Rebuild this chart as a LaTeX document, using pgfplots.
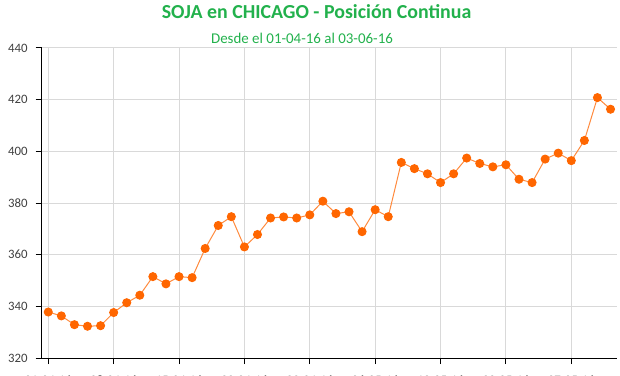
\documentclass[border=0pt]{standalone}
\usepackage{fontspec}
\setmainfont{Carlito}
\usepackage{pgfplots}
\pgfplotsset{compat=1.18}
\definecolor{titlegreen}{HTML}{22B14C}
\definecolor{mkorange}{HTML}{FF6600}
\definecolor{lnorange}{HTML}{FF8A3D}
\definecolor{gridgray}{HTML}{D9D9D9}
\definecolor{ticktext}{HTML}{404040}
\begin{document}
\begin{tikzpicture}
\begin{axis}[
  name=ax, at={(0,0)}, anchor=south west,
  scale only axis, width=431.5pt, height=232.5pt,
  xmin=-0.5, xmax=43.5, ymin=320, ymax=440,
  ytick={320,340,...,440},
  xtick={0,5,...,40},
  xticklabels={01-04-16,08-04-16,15-04-16,22-04-16,29-04-16,06-05-16,13-05-16,20-05-16,27-05-16},
  grid=major, major grid style={gridgray, line width=0.75pt},
  axis x line*=bottom, axis y line*=left,
  axis line style={black, line width=0.75pt},
  tick align=outside, major tick length=4.5pt,
  tick style={black, line width=0.75pt},
  ticklabel style={font=\fontsize{9.6}{11}\selectfont, text=ticktext},
  yticklabel style={xshift=-2.5pt},
  xticklabel style={yshift=-5.5pt},
  /pgf/number format/assume math mode=true,
]
\addplot[color=lnorange, line width=0.75pt, mark=*, mark size=3pt,
  mark options={draw=mkorange, fill=mkorange}] coordinates {
(0,337.8) (1,336.3) (2,332.9) (3,332.3) (4,332.5) (5,337.6) (6,341.4) (7,344.3)
(8,351.5) (9,348.7) (10,351.5) (11,351.1) (12,362.4) (13,371.3) (14,374.7) (15,363.0)
(16,367.8) (17,374.2) (18,374.6) (19,374.2) (20,375.4) (21,380.7) (22,375.9) (23,376.6)
(24,368.9) (25,377.4) (26,374.7) (27,395.7) (28,393.3) (29,391.3) (30,387.9) (31,391.3)
(32,397.4) (33,395.3) (34,394.0) (35,394.8) (36,389.2) (37,387.9) (38,397.0) (39,399.3)
(40,396.4) (41,404.2) (42,420.8) (43,416.3)
};
\end{axis}
\node[font=\bfseries\fontsize{14.9}{17}\selectfont, text=titlegreen] at (206.1pt,259.5pt) {SOJA en CHICAGO - Posición Continua};
\node[font=\fontsize{11.2}{13}\selectfont, text=titlegreen] at (195.2pt,240pt) {Desde el 01-04-16 al 03-06-16};
\pgfresetboundingbox
\path[use as bounding box] (-31.3pt,-12.75pt) rectangle (433.7pt,268.5pt);
\end{tikzpicture}
\end{document}
